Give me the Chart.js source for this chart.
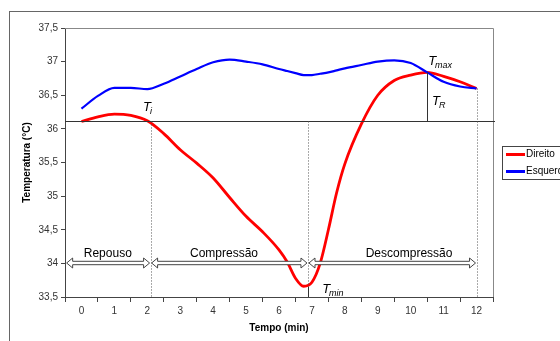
<!DOCTYPE html>
<html lang="pt">
<head>
<meta charset="UTF-8" />
<title>Temperatura x Tempo</title>
<script src="https://cdn.jsdelivr.net/npm/chart.js"></script>
<style>
  html, body { margin: 0; padding: 0; background: #fff; overflow: hidden; }
  #wrap { position: relative; width: 560px; height: 341px; overflow: hidden; }
  #frame { position: absolute; left: 9px; top: 11px; width: 620px; height: 400px; border: 1px solid #666; }
  #chart { position: absolute; left: 0; top: 0; }
</style>
</head>
<body>
<div id="wrap">
  <div id="frame"></div>
  <canvas id="chart" width="560" height="341"></canvas>
</div>
<script>
// tempo (min) e temperaturas
const tempo    = [0, 0.5, 1, 1.5, 2, 2.5, 3, 3.5, 4, 4.5, 5, 5.5, 6, 6.25, 6.5, 6.75, 7, 7.25, 7.5, 7.75, 8, 8.5, 9, 9.5, 10, 10.5, 11, 11.5, 12];
const direito  = [36.11, 36.18, 36.22, 36.20, 36.12, 35.93, 35.69, 35.49, 35.27, 34.98, 34.70, 34.47, 34.20, 34.02, 33.78, 33.66, 33.72, 34.00, 34.50, 35.05, 35.48, 36.07, 36.50, 36.72, 36.80, 36.84, 36.78, 36.70, 36.60];
const esquerdo = [36.30, 36.49, 36.61, 36.61, 36.59, 36.67, 36.78, 36.89, 36.99, 37.03, 37.00, 36.96, 36.89, 36.86, 36.83, 36.80, 36.80, 36.82, 36.84, 36.87, 36.90, 36.95, 37.00, 37.02, 36.98, 36.84, 36.70, 36.63, 36.60];

// fases e marcadores
const fases      = ["Repouso", "Compressão", "Descompressão"];
const faseLimites = [-0.45, 2.1, 6.88, 12];
const faseTextoX = [0.8, 4.33, 9.95];
const nivelSeta  = 34;
const Ti = 36.11, Tmax = 36.84, tTmax = 10.5, Tmin = 33.65, tFim = 12, Tfim = 36.60;

const FONT = '"Liberation Sans", Arial, sans-serif';
Chart.defaults.font.family = FONT;

// anotações desenhadas por cima (linhas, setas, rótulos T, legenda)
const anotacoes = {
  id: 'anotacoes',
  afterDraw(chart) {
    const { ctx, chartArea: a, scales: { x, y } } = chart;
    const X = v => x.getPixelForValue(v);
    const Y = v => y.getPixelForValue(v);
    ctx.save();

    // borda cinza do gráfico (topo e direita)
    ctx.strokeStyle = '#888';
    ctx.lineWidth = 1;
    ctx.beginPath();
    ctx.moveTo(a.left, Math.round(a.top) + 0.5);
    ctx.lineTo(Math.round(a.right) + 0.5, Math.round(a.top) + 0.5);
    ctx.lineTo(Math.round(a.right) + 0.5, a.bottom);
    ctx.stroke();

    // linha horizontal Ti
    ctx.strokeStyle = '#333';
    ctx.beginPath();
    ctx.moveTo(a.left, Math.round(Y(Ti)) + 0.5);
    ctx.lineTo(a.right + 2, Math.round(Y(Ti)) + 0.5);
    ctx.stroke();

    // linhas pontilhadas verticais
    ctx.strokeStyle = '#555';
    ctx.setLineDash([1, 2]);
    [[faseLimites[1], Ti], [faseLimites[2], Ti], [tFim, Tfim]].forEach(([t, v]) => {
      const px = Math.round(X(t)) + 0.5;
      ctx.beginPath();
      ctx.moveTo(px, Y(v));
      ctx.lineTo(px, a.bottom);
      ctx.stroke();
    });
    ctx.setLineDash([]);

    // Tmax -> Ti  e  marca Tmin
    ctx.strokeStyle = '#333';
    ctx.beginPath();
    ctx.moveTo(Math.round(X(tTmax)) + 0.5, Y(Tmax));
    ctx.lineTo(Math.round(X(tTmax)) + 0.5, Y(Ti));
    ctx.moveTo(Math.round(X(faseLimites[2])) + 0.5, Y(Tmin));
    ctx.lineTo(Math.round(X(faseLimites[2])) + 0.5, a.bottom);
    ctx.stroke();

    // setas duplas (vazadas)
    const ya = Math.round(Y(nivelSeta));
    function seta(x1, x2) {
      const h = 5, w = 6, s = 1.7;
      ctx.beginPath();
      ctx.moveTo(x1, ya);
      ctx.lineTo(x1 + w, ya - h);
      ctx.lineTo(x1 + w, ya - s);
      ctx.lineTo(x2 - w, ya - s);
      ctx.lineTo(x2 - w, ya - h);
      ctx.lineTo(x2, ya);
      ctx.lineTo(x2 - w, ya + h);
      ctx.lineTo(x2 - w, ya + s);
      ctx.lineTo(x1 + w, ya + s);
      ctx.lineTo(x1 + w, ya + h);
      ctx.closePath();
      ctx.fillStyle = '#fff';
      ctx.fill();
      ctx.strokeStyle = '#444';
      ctx.lineWidth = 1;
      ctx.stroke();
    }
    for (let i = 0; i < fases.length; i++) {
      seta(X(faseLimites[i]) + (i ? 1 : 0), X(faseLimites[i + 1]) - 1);
    }
    ctx.fillStyle = '#000';
    ctx.font = '12px ' + FONT;
    ctx.textAlign = 'center';
    ctx.textBaseline = 'alphabetic';
    fases.forEach((f, i) => ctx.fillText(f, X(faseTextoX[i]), ya - 6));

    // rótulos T
    function rotT(t, v, sub) {
      const px = X(t), py = Y(v);
      ctx.textAlign = 'left';
      ctx.font = 'italic 13px ' + FONT;
      ctx.fillText('T', px, py);
      const w = ctx.measureText('T').width;
      ctx.font = 'italic 9px ' + FONT;
      ctx.fillText(sub, px + w - 1, py + 3);
    }
    rotT(1.87, 36.27, 'i');
    rotT(10.53, 36.95, 'max');
    rotT(10.65, 36.36, 'R');
    rotT(7.31, 33.56, 'min');

    // legenda
    ctx.strokeStyle = '#444';
    ctx.lineWidth = 1;
    ctx.strokeRect(502.5, 146.5, 120, 33);
    ctx.font = '10px ' + FONT;
    ctx.textBaseline = 'middle';
    chart.data.datasets.forEach((ds, i) => {
      const ly = 154.5 + i * 17;
      ctx.strokeStyle = ds.borderColor;
      ctx.lineWidth = 3;
      ctx.beginPath();
      ctx.moveTo(506, ly);
      ctx.lineTo(525, ly);
      ctx.stroke();
      ctx.fillStyle = '#000';
      ctx.fillText(ds.label, 526, ly);
    });
    ctx.restore();
  }
};

const pontos = vals => tempo.map((t, i) => ({ x: t, y: vals[i] }));

new Chart(document.getElementById('chart'), {
  type: 'line',
  data: {
    datasets: [
      { label: 'Direito', data: pontos(direito), borderColor: '#ff0000', borderWidth: 2.8, pointRadius: 0, cubicInterpolationMode: 'monotone', order: 1 },
      { label: 'Esquerdo', data: pontos(esquerdo), borderColor: '#0000ff', borderWidth: 2.2, pointRadius: 0, cubicInterpolationMode: 'monotone', order: 0 }
    ]
  },
  options: {
    responsive: false,
    animation: false,
    devicePixelRatio: 1,
    layout: { padding: { top: 28, right: 67, left: 0, bottom: 0 } },
    plugins: { legend: { display: false }, tooltip: { enabled: false } },
    scales: {
      x: {
        type: 'linear',
        min: -0.5, max: 12.5,
        afterFit: s => { s.height = 44; },
        ticks: {
          stepSize: 0.5, autoSkip: false, maxRotation: 0, padding: 3,
          color: '#333', font: { size: 10 },
          callback: v => Number.isInteger(v) ? String(v) : ''
        },
        grid: {
          drawOnChartArea: false, tickLength: 5,
          color: c => (c.tick && !Number.isInteger(c.tick.value)) ? '#444' : 'rgba(0,0,0,0)'
        },
        border: { color: '#444', width: 1 },
        title: { display: true, text: 'Tempo (min)', color: '#000', font: { size: 10, weight: 'bold' }, padding: { top: 0, bottom: 7 } }
      },
      y: {
        min: 33.5, max: 37.5,
        afterFit: s => { s.width = 65; },
        ticks: {
          stepSize: 0.5, padding: 3, color: '#333', font: { size: 10 },
          callback: v => String(v).replace('.', ',')
        },
        grid: { drawOnChartArea: false, tickLength: 4, color: '#444' },
        border: { color: '#444', width: 1 },
        title: { display: true, text: 'Temperatura (°C)', color: '#000', font: { size: 10, weight: 'bold' }, padding: { top: 21, bottom: 0 } }
      }
    }
  },
  plugins: [anotacoes]
});
</script>
</body>
</html>
